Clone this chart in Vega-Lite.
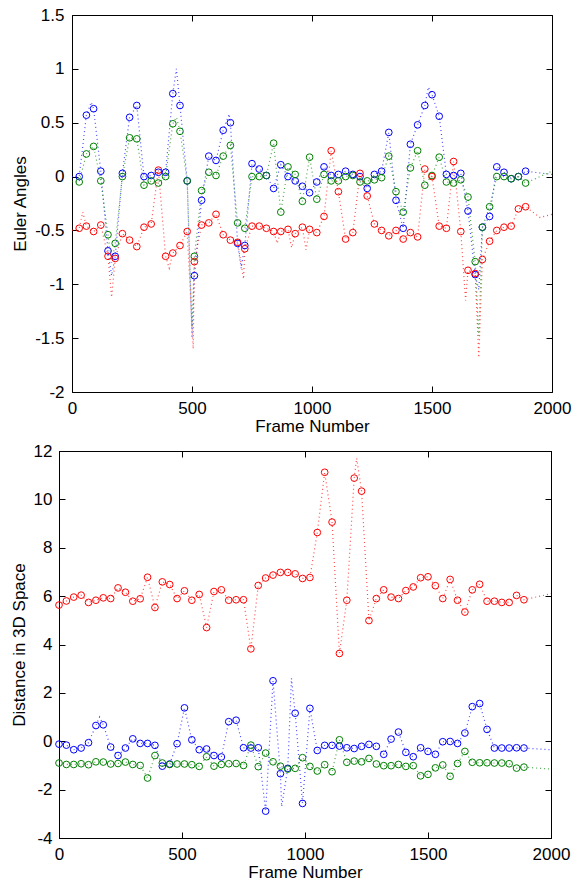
{
"$schema": "https://vega.github.io/schema/vega-lite/v6.json",
"background": "white",
"padding": {"left": 9, "top": 6, "right": 24, "bottom": 0},
"spacing": 7,
"config": {
 "view": {"stroke": "black", "strokeWidth": 1},
 "font": "Liberation Sans",
 "axis": {"grid": false, "domainColor": "black", "tickColor": "black", "labelColor": "black", "titleColor": "black", "labelFont": "Liberation Sans", "titleFont": "Liberation Sans", "labelFontSize": 17, "titleFontSize": 17, "titleFontWeight": "normal", "tickSize": -6, "labelPadding": 14, "labelFlush": false, "labelOverlap": false, "domainWidth": 1, "tickWidth": 1}
},
"datasets": {
"top": [
{"frame":0,"series":"B","value":0,"kind":"ln"},{"frame":80,"series":"B","value":0.69,"kind":"ln"},{"frame":165,"series":"B","value":-0.92,"kind":"ln"},{"frame":435,"series":"B","value":1.0,"kind":"ln"},{"frame":500,"series":"B","value":-1.5,"kind":"ln"},{"frame":655,"series":"B","value":0.58,"kind":"ln"},{"frame":705,"series":"B","value":-0.85,"kind":"ln"},{"frame":1485,"series":"B","value":0.83,"kind":"ln"},{"frame":1695,"series":"B","value":-1.05,"kind":"ln"},{"frame":2000,"series":"B","value":0.02,"kind":"ln"},
{"frame":0,"series":"G","value":-0.05,"kind":"ln"},{"frame":165,"series":"G","value":-0.8,"kind":"ln"},{"frame":435,"series":"G","value":0.55,"kind":"ln"},{"frame":500,"series":"G","value":-1.4,"kind":"ln"},{"frame":1695,"series":"G","value":-1.48,"kind":"ln"},{"frame":2000,"series":"G","value":0.05,"kind":"ln"},
{"frame":0,"series":"R","value":-0.5,"kind":"ln"},{"frame":45,"series":"R","value":-0.33,"kind":"ln"},{"frame":165,"series":"R","value":-1.12,"kind":"ln"},{"frame":405,"series":"R","value":-0.85,"kind":"ln"},{"frame":505,"series":"R","value":-1.6,"kind":"ln"},{"frame":715,"series":"R","value":-0.95,"kind":"ln"},{"frame":855,"series":"R","value":-0.62,"kind":"ln"},{"frame":915,"series":"R","value":-0.66,"kind":"ln"},{"frame":975,"series":"R","value":-0.68,"kind":"ln"},{"frame":1640,"series":"R","value":-1.15,"kind":"ln"},{"frame":1695,"series":"R","value":-1.68,"kind":"ln"},{"frame":1950,"series":"R","value":-0.38,"kind":"ln"},{"frame":2000,"series":"R","value":-0.35,"kind":"ln"},
{"frame":30,"series":"B","value":0,"kind":"pt"},{"frame":30,"series":"G","value":-0.05,"kind":"pt"},{"frame":30,"series":"R","value":-0.48,"kind":"pt"},
{"frame":60,"series":"B","value":0.57,"kind":"pt"},{"frame":60,"series":"G","value":0.21,"kind":"pt"},{"frame":60,"series":"R","value":-0.46,"kind":"pt"},
{"frame":90,"series":"B","value":0.63,"kind":"pt"},{"frame":90,"series":"G","value":0.28,"kind":"pt"},{"frame":90,"series":"R","value":-0.51,"kind":"pt"},
{"frame":120,"series":"B","value":0.05,"kind":"pt"},{"frame":120,"series":"G","value":-0.04,"kind":"pt"},{"frame":120,"series":"R","value":-0.45,"kind":"pt"},
{"frame":150,"series":"B","value":-0.69,"kind":"pt"},{"frame":150,"series":"G","value":-0.54,"kind":"pt"},{"frame":150,"series":"R","value":-0.74,"kind":"pt"},
{"frame":180,"series":"B","value":-0.74,"kind":"pt"},{"frame":180,"series":"G","value":-0.62,"kind":"pt"},{"frame":180,"series":"R","value":-0.76,"kind":"pt"},
{"frame":210,"series":"B","value":0.03,"kind":"pt"},{"frame":210,"series":"G","value":0,"kind":"pt"},{"frame":210,"series":"R","value":-0.53,"kind":"pt"},
{"frame":240,"series":"B","value":0.55,"kind":"pt"},{"frame":240,"series":"G","value":0.36,"kind":"pt"},{"frame":240,"series":"R","value":-0.59,"kind":"pt"},
{"frame":270,"series":"B","value":0.66,"kind":"pt"},{"frame":270,"series":"G","value":0.35,"kind":"pt"},{"frame":270,"series":"R","value":-0.65,"kind":"pt"},
{"frame":300,"series":"B","value":0,"kind":"pt"},{"frame":300,"series":"G","value":-0.08,"kind":"pt"},{"frame":300,"series":"R","value":-0.47,"kind":"pt"},
{"frame":330,"series":"B","value":0.01,"kind":"pt"},{"frame":330,"series":"G","value":-0.04,"kind":"pt"},{"frame":330,"series":"R","value":-0.44,"kind":"pt"},
{"frame":360,"series":"B","value":0.04,"kind":"pt"},{"frame":360,"series":"G","value":-0.06,"kind":"pt"},{"frame":360,"series":"R","value":0.06,"kind":"pt"},
{"frame":390,"series":"B","value":0.04,"kind":"pt"},{"frame":390,"series":"G","value":0,"kind":"pt"},{"frame":390,"series":"R","value":-0.74,"kind":"pt"},
{"frame":420,"series":"B","value":0.77,"kind":"pt"},{"frame":420,"series":"G","value":0.49,"kind":"pt"},{"frame":420,"series":"R","value":-0.71,"kind":"pt"},
{"frame":450,"series":"B","value":0.66,"kind":"pt"},{"frame":450,"series":"G","value":0.42,"kind":"pt"},{"frame":450,"series":"R","value":-0.64,"kind":"pt"},
{"frame":480,"series":"B","value":-0.04,"kind":"pt"},{"frame":480,"series":"G","value":-0.04,"kind":"pt"},{"frame":480,"series":"R","value":-0.51,"kind":"pt"},
{"frame":510,"series":"B","value":-0.92,"kind":"pt"},{"frame":510,"series":"G","value":-0.74,"kind":"pt"},{"frame":510,"series":"R","value":-0.79,"kind":"pt"},
{"frame":540,"series":"B","value":-0.22,"kind":"pt"},{"frame":540,"series":"G","value":-0.13,"kind":"pt"},{"frame":540,"series":"R","value":-0.45,"kind":"pt"},
{"frame":570,"series":"B","value":0.19,"kind":"pt"},{"frame":570,"series":"G","value":0.04,"kind":"pt"},{"frame":570,"series":"R","value":-0.43,"kind":"pt"},
{"frame":600,"series":"B","value":0.15,"kind":"pt"},{"frame":600,"series":"G","value":0.01,"kind":"pt"},{"frame":600,"series":"R","value":-0.35,"kind":"pt"},
{"frame":630,"series":"B","value":0.43,"kind":"pt"},{"frame":630,"series":"G","value":0.19,"kind":"pt"},{"frame":630,"series":"R","value":-0.54,"kind":"pt"},
{"frame":660,"series":"B","value":0.5,"kind":"pt"},{"frame":660,"series":"G","value":0.29,"kind":"pt"},{"frame":660,"series":"R","value":-0.59,"kind":"pt"},
{"frame":690,"series":"B","value":-0.62,"kind":"pt"},{"frame":690,"series":"G","value":-0.43,"kind":"pt"},{"frame":690,"series":"R","value":-0.61,"kind":"pt"},
{"frame":720,"series":"B","value":-0.64,"kind":"pt"},{"frame":720,"series":"G","value":-0.48,"kind":"pt"},{"frame":720,"series":"R","value":-0.67,"kind":"pt"},
{"frame":750,"series":"B","value":0.12,"kind":"pt"},{"frame":750,"series":"G","value":0,"kind":"pt"},{"frame":750,"series":"R","value":-0.46,"kind":"pt"},
{"frame":780,"series":"B","value":0.07,"kind":"pt"},{"frame":780,"series":"G","value":0,"kind":"pt"},{"frame":780,"series":"R","value":-0.46,"kind":"pt"},
{"frame":810,"series":"B","value":0.01,"kind":"pt"},{"frame":810,"series":"G","value":0.01,"kind":"pt"},{"frame":810,"series":"R","value":-0.48,"kind":"pt"},
{"frame":840,"series":"B","value":-0.11,"kind":"pt"},{"frame":840,"series":"G","value":0.31,"kind":"pt"},{"frame":840,"series":"R","value":-0.51,"kind":"pt"},
{"frame":870,"series":"B","value":0.11,"kind":"pt"},{"frame":870,"series":"G","value":-0.33,"kind":"pt"},{"frame":870,"series":"R","value":-0.51,"kind":"pt"},
{"frame":900,"series":"B","value":0,"kind":"pt"},{"frame":900,"series":"G","value":0.09,"kind":"pt"},{"frame":900,"series":"R","value":-0.49,"kind":"pt"},
{"frame":930,"series":"B","value":-0.04,"kind":"pt"},{"frame":930,"series":"G","value":0.02,"kind":"pt"},{"frame":930,"series":"R","value":-0.53,"kind":"pt"},
{"frame":960,"series":"B","value":-0.09,"kind":"pt"},{"frame":960,"series":"G","value":-0.23,"kind":"pt"},{"frame":960,"series":"R","value":-0.47,"kind":"pt"},
{"frame":990,"series":"B","value":-0.15,"kind":"pt"},{"frame":990,"series":"G","value":0.18,"kind":"pt"},{"frame":990,"series":"R","value":-0.49,"kind":"pt"},
{"frame":1020,"series":"B","value":-0.05,"kind":"pt"},{"frame":1020,"series":"G","value":-0.21,"kind":"pt"},{"frame":1020,"series":"R","value":-0.52,"kind":"pt"},
{"frame":1050,"series":"B","value":0.09,"kind":"pt"},{"frame":1050,"series":"G","value":0.02,"kind":"pt"},{"frame":1050,"series":"R","value":-0.37,"kind":"pt"},
{"frame":1080,"series":"B","value":0.01,"kind":"pt"},{"frame":1080,"series":"G","value":-0.04,"kind":"pt"},{"frame":1080,"series":"R","value":0.24,"kind":"pt"},
{"frame":1110,"series":"B","value":0.02,"kind":"pt"},{"frame":1110,"series":"G","value":-0.04,"kind":"pt"},{"frame":1110,"series":"R","value":-0.14,"kind":"pt"},
{"frame":1140,"series":"B","value":0.05,"kind":"pt"},{"frame":1140,"series":"G","value":0,"kind":"pt"},{"frame":1140,"series":"R","value":-0.58,"kind":"pt"},
{"frame":1170,"series":"B","value":0.02,"kind":"pt"},{"frame":1170,"series":"G","value":0.01,"kind":"pt"},{"frame":1170,"series":"R","value":-0.52,"kind":"pt"},
{"frame":1200,"series":"B","value":0,"kind":"pt"},{"frame":1200,"series":"G","value":-0.05,"kind":"pt"},{"frame":1200,"series":"R","value":0.03,"kind":"pt"},
{"frame":1230,"series":"B","value":-0.11,"kind":"pt"},{"frame":1230,"series":"G","value":-0.04,"kind":"pt"},{"frame":1230,"series":"R","value":-0.18,"kind":"pt"},
{"frame":1260,"series":"B","value":0.02,"kind":"pt"},{"frame":1260,"series":"G","value":-0.03,"kind":"pt"},{"frame":1260,"series":"R","value":-0.44,"kind":"pt"},
{"frame":1290,"series":"B","value":0.05,"kind":"pt"},{"frame":1290,"series":"G","value":-0.01,"kind":"pt"},{"frame":1290,"series":"R","value":-0.5,"kind":"pt"},
{"frame":1320,"series":"B","value":0.41,"kind":"pt"},{"frame":1320,"series":"G","value":0.19,"kind":"pt"},{"frame":1320,"series":"R","value":-0.55,"kind":"pt"},
{"frame":1350,"series":"B","value":-0.22,"kind":"pt"},{"frame":1350,"series":"G","value":-0.14,"kind":"pt"},{"frame":1350,"series":"R","value":-0.5,"kind":"pt"},
{"frame":1380,"series":"B","value":-0.48,"kind":"pt"},{"frame":1380,"series":"G","value":-0.33,"kind":"pt"},{"frame":1380,"series":"R","value":-0.58,"kind":"pt"},
{"frame":1410,"series":"B","value":0.3,"kind":"pt"},{"frame":1410,"series":"G","value":0.08,"kind":"pt"},{"frame":1410,"series":"R","value":-0.52,"kind":"pt"},
{"frame":1440,"series":"B","value":0.48,"kind":"pt"},{"frame":1440,"series":"G","value":0.24,"kind":"pt"},{"frame":1440,"series":"R","value":-0.56,"kind":"pt"},
{"frame":1470,"series":"B","value":0.66,"kind":"pt"},{"frame":1470,"series":"G","value":-0.08,"kind":"pt"},{"frame":1470,"series":"R","value":0.07,"kind":"pt"},
{"frame":1500,"series":"B","value":0.76,"kind":"pt"},{"frame":1500,"series":"G","value":0.01,"kind":"pt"},{"frame":1500,"series":"R","value":0,"kind":"pt"},
{"frame":1530,"series":"B","value":0.56,"kind":"pt"},{"frame":1530,"series":"G","value":0.18,"kind":"pt"},{"frame":1530,"series":"R","value":-0.46,"kind":"pt"},
{"frame":1560,"series":"B","value":0.02,"kind":"pt"},{"frame":1560,"series":"G","value":-0.05,"kind":"pt"},{"frame":1560,"series":"R","value":-0.48,"kind":"pt"},
{"frame":1590,"series":"B","value":0.01,"kind":"pt"},{"frame":1590,"series":"G","value":-0.06,"kind":"pt"},{"frame":1590,"series":"R","value":0.14,"kind":"pt"},
{"frame":1620,"series":"B","value":0.03,"kind":"pt"},{"frame":1620,"series":"G","value":-0.03,"kind":"pt"},{"frame":1620,"series":"R","value":-0.51,"kind":"pt"},
{"frame":1650,"series":"B","value":-0.32,"kind":"pt"},{"frame":1650,"series":"G","value":-0.19,"kind":"pt"},{"frame":1650,"series":"R","value":-0.87,"kind":"pt"},
{"frame":1680,"series":"B","value":-0.91,"kind":"pt"},{"frame":1680,"series":"G","value":-0.79,"kind":"pt"},{"frame":1680,"series":"R","value":-0.9,"kind":"pt"},
{"frame":1710,"series":"B","value":-0.47,"kind":"pt"},{"frame":1710,"series":"G","value":-0.47,"kind":"pt"},{"frame":1710,"series":"R","value":-0.77,"kind":"pt"},
{"frame":1740,"series":"B","value":-0.37,"kind":"pt"},{"frame":1740,"series":"G","value":-0.28,"kind":"pt"},{"frame":1740,"series":"R","value":-0.6,"kind":"pt"},
{"frame":1770,"series":"B","value":0.09,"kind":"pt"},{"frame":1770,"series":"G","value":0,"kind":"pt"},{"frame":1770,"series":"R","value":-0.5,"kind":"pt"},
{"frame":1800,"series":"B","value":0.04,"kind":"pt"},{"frame":1800,"series":"G","value":0,"kind":"pt"},{"frame":1800,"series":"R","value":-0.47,"kind":"pt"},
{"frame":1830,"series":"B","value":-0.02,"kind":"pt"},{"frame":1830,"series":"G","value":-0.02,"kind":"pt"},{"frame":1830,"series":"R","value":-0.46,"kind":"pt"},
{"frame":1860,"series":"B","value":0,"kind":"pt"},{"frame":1860,"series":"G","value":0,"kind":"pt"},{"frame":1860,"series":"R","value":-0.3,"kind":"pt"},
{"frame":1890,"series":"B","value":0.05,"kind":"pt"},{"frame":1890,"series":"G","value":-0.06,"kind":"pt"},{"frame":1890,"series":"R","value":-0.28,"kind":"pt"}
],
"bot": [
{"frame":1210,"series":"R","value":11.7,"kind":"ln"},{"frame":2000,"series":"R","value":6.1,"kind":"ln"},
{"frame":165,"series":"B","value":1.0,"kind":"ln"},{"frame":905,"series":"B","value":-2.7,"kind":"ln"},{"frame":945,"series":"B","value":2.6,"kind":"ln"},{"frame":2000,"series":"B","value":-0.35,"kind":"ln"},
{"frame":2000,"series":"G","value":-1.15,"kind":"ln"},
{"frame":0,"series":"R","value":5.63,"kind":"pt"},{"frame":0,"series":"B","value":-0.12,"kind":"pt"},{"frame":0,"series":"G","value":-0.9,"kind":"pt"},
{"frame":30,"series":"R","value":5.8,"kind":"pt"},{"frame":30,"series":"B","value":-0.16,"kind":"pt"},{"frame":30,"series":"G","value":-0.96,"kind":"pt"},
{"frame":60,"series":"R","value":5.96,"kind":"pt"},{"frame":60,"series":"B","value":-0.35,"kind":"pt"},{"frame":60,"series":"G","value":-0.96,"kind":"pt"},
{"frame":90,"series":"R","value":6.04,"kind":"pt"},{"frame":90,"series":"B","value":-0.28,"kind":"pt"},{"frame":90,"series":"G","value":-0.93,"kind":"pt"},
{"frame":120,"series":"R","value":5.74,"kind":"pt"},{"frame":120,"series":"B","value":-0.06,"kind":"pt"},{"frame":120,"series":"G","value":-0.97,"kind":"pt"},
{"frame":150,"series":"R","value":5.83,"kind":"pt"},{"frame":150,"series":"B","value":0.65,"kind":"pt"},{"frame":150,"series":"G","value":-0.85,"kind":"pt"},
{"frame":180,"series":"R","value":5.93,"kind":"pt"},{"frame":180,"series":"B","value":0.68,"kind":"pt"},{"frame":180,"series":"G","value":-0.86,"kind":"pt"},
{"frame":210,"series":"R","value":5.9,"kind":"pt"},{"frame":210,"series":"B","value":-0.24,"kind":"pt"},{"frame":210,"series":"G","value":-0.94,"kind":"pt"},
{"frame":240,"series":"R","value":6.34,"kind":"pt"},{"frame":240,"series":"B","value":-0.59,"kind":"pt"},{"frame":240,"series":"G","value":-0.92,"kind":"pt"},
{"frame":270,"series":"R","value":6.16,"kind":"pt"},{"frame":270,"series":"B","value":-0.28,"kind":"pt"},{"frame":270,"series":"G","value":-0.86,"kind":"pt"},
{"frame":300,"series":"R","value":5.79,"kind":"pt"},{"frame":300,"series":"B","value":0.1,"kind":"pt"},{"frame":300,"series":"G","value":-0.96,"kind":"pt"},
{"frame":330,"series":"R","value":5.89,"kind":"pt"},{"frame":330,"series":"B","value":-0.09,"kind":"pt"},{"frame":330,"series":"G","value":-1.0,"kind":"pt"},
{"frame":360,"series":"R","value":6.78,"kind":"pt"},{"frame":360,"series":"B","value":-0.09,"kind":"pt"},{"frame":360,"series":"G","value":-1.52,"kind":"pt"},
{"frame":390,"series":"R","value":5.53,"kind":"pt"},{"frame":390,"series":"B","value":-0.17,"kind":"pt"},{"frame":390,"series":"G","value":-0.59,"kind":"pt"},
{"frame":420,"series":"R","value":6.59,"kind":"pt"},{"frame":420,"series":"B","value":-1.03,"kind":"pt"},{"frame":420,"series":"G","value":-0.9,"kind":"pt"},
{"frame":450,"series":"R","value":6.48,"kind":"pt"},{"frame":450,"series":"B","value":-0.94,"kind":"pt"},{"frame":450,"series":"G","value":-0.96,"kind":"pt"},
{"frame":480,"series":"R","value":5.9,"kind":"pt"},{"frame":480,"series":"B","value":-0.1,"kind":"pt"},{"frame":480,"series":"G","value":-0.94,"kind":"pt"},
{"frame":510,"series":"R","value":6.22,"kind":"pt"},{"frame":510,"series":"B","value":1.38,"kind":"pt"},{"frame":510,"series":"G","value":-0.94,"kind":"pt"},
{"frame":540,"series":"R","value":5.83,"kind":"pt"},{"frame":540,"series":"B","value":0.06,"kind":"pt"},{"frame":540,"series":"G","value":-0.97,"kind":"pt"},
{"frame":570,"series":"R","value":6.07,"kind":"pt"},{"frame":570,"series":"B","value":-0.35,"kind":"pt"},{"frame":570,"series":"G","value":-1.04,"kind":"pt"},
{"frame":600,"series":"R","value":4.7,"kind":"pt"},{"frame":600,"series":"B","value":-0.32,"kind":"pt"},{"frame":600,"series":"G","value":-0.64,"kind":"pt"},
{"frame":630,"series":"R","value":6.19,"kind":"pt"},{"frame":630,"series":"B","value":-0.59,"kind":"pt"},{"frame":630,"series":"G","value":-1.03,"kind":"pt"},
{"frame":660,"series":"R","value":6.26,"kind":"pt"},{"frame":660,"series":"B","value":-0.65,"kind":"pt"},{"frame":660,"series":"G","value":-0.96,"kind":"pt"},
{"frame":690,"series":"R","value":5.83,"kind":"pt"},{"frame":690,"series":"B","value":0.81,"kind":"pt"},{"frame":690,"series":"G","value":-0.93,"kind":"pt"},
{"frame":720,"series":"R","value":5.85,"kind":"pt"},{"frame":720,"series":"B","value":0.87,"kind":"pt"},{"frame":720,"series":"G","value":-0.92,"kind":"pt"},
{"frame":750,"series":"R","value":5.85,"kind":"pt"},{"frame":750,"series":"B","value":-0.27,"kind":"pt"},{"frame":750,"series":"G","value":-1.0,"kind":"pt"},
{"frame":780,"series":"R","value":3.82,"kind":"pt"},{"frame":780,"series":"B","value":-0.28,"kind":"pt"},{"frame":780,"series":"G","value":-0.16,"kind":"pt"},
{"frame":810,"series":"R","value":6.44,"kind":"pt"},{"frame":810,"series":"B","value":-0.27,"kind":"pt"},{"frame":810,"series":"G","value":-1.05,"kind":"pt"},
{"frame":840,"series":"R","value":6.75,"kind":"pt"},{"frame":840,"series":"B","value":-2.89,"kind":"pt"},{"frame":840,"series":"G","value":-0.49,"kind":"pt"},
{"frame":870,"series":"R","value":6.87,"kind":"pt"},{"frame":870,"series":"B","value":2.5,"kind":"pt"},{"frame":870,"series":"G","value":-0.85,"kind":"pt"},
{"frame":900,"series":"R","value":6.98,"kind":"pt"},{"frame":900,"series":"B","value":-1.34,"kind":"pt"},{"frame":900,"series":"G","value":-1.03,"kind":"pt"},
{"frame":930,"series":"R","value":6.98,"kind":"pt"},{"frame":930,"series":"B","value":-1.12,"kind":"pt"},{"frame":930,"series":"G","value":-1.15,"kind":"pt"},
{"frame":960,"series":"R","value":6.92,"kind":"pt"},{"frame":960,"series":"B","value":1.16,"kind":"pt"},{"frame":960,"series":"G","value":-1.12,"kind":"pt"},
{"frame":990,"series":"R","value":6.73,"kind":"pt"},{"frame":990,"series":"B","value":-2.57,"kind":"pt"},{"frame":990,"series":"G","value":-0.68,"kind":"pt"},
{"frame":1020,"series":"R","value":6.77,"kind":"pt"},{"frame":1020,"series":"B","value":1.36,"kind":"pt"},{"frame":1020,"series":"G","value":-1.04,"kind":"pt"},
{"frame":1050,"series":"R","value":8.63,"kind":"pt"},{"frame":1050,"series":"B","value":-0.38,"kind":"pt"},{"frame":1050,"series":"G","value":-1.23,"kind":"pt"},
{"frame":1080,"series":"R","value":11.12,"kind":"pt"},{"frame":1080,"series":"B","value":-0.17,"kind":"pt"},{"frame":1080,"series":"G","value":-0.97,"kind":"pt"},
{"frame":1110,"series":"R","value":9.06,"kind":"pt"},{"frame":1110,"series":"B","value":-0.17,"kind":"pt"},{"frame":1110,"series":"G","value":-1.26,"kind":"pt"},
{"frame":1140,"series":"R","value":3.63,"kind":"pt"},{"frame":1140,"series":"B","value":-0.2,"kind":"pt"},{"frame":1140,"series":"G","value":0.06,"kind":"pt"},
{"frame":1170,"series":"R","value":5.83,"kind":"pt"},{"frame":1170,"series":"B","value":-0.27,"kind":"pt"},{"frame":1170,"series":"G","value":-0.87,"kind":"pt"},
{"frame":1200,"series":"R","value":10.88,"kind":"pt"},{"frame":1200,"series":"B","value":-0.3,"kind":"pt"},{"frame":1200,"series":"G","value":-0.82,"kind":"pt"},
{"frame":1230,"series":"R","value":10.34,"kind":"pt"},{"frame":1230,"series":"B","value":-0.21,"kind":"pt"},{"frame":1230,"series":"G","value":-0.85,"kind":"pt"},
{"frame":1260,"series":"R","value":4.99,"kind":"pt"},{"frame":1260,"series":"B","value":-0.13,"kind":"pt"},{"frame":1260,"series":"G","value":-0.71,"kind":"pt"},
{"frame":1290,"series":"R","value":5.9,"kind":"pt"},{"frame":1290,"series":"B","value":-0.21,"kind":"pt"},{"frame":1290,"series":"G","value":-0.94,"kind":"pt"},
{"frame":1320,"series":"R","value":6.26,"kind":"pt"},{"frame":1320,"series":"B","value":-0.54,"kind":"pt"},{"frame":1320,"series":"G","value":-1.01,"kind":"pt"},
{"frame":1350,"series":"R","value":5.96,"kind":"pt"},{"frame":1350,"series":"B","value":0.09,"kind":"pt"},{"frame":1350,"series":"G","value":-1.01,"kind":"pt"},
{"frame":1380,"series":"R","value":5.9,"kind":"pt"},{"frame":1380,"series":"B","value":0.38,"kind":"pt"},{"frame":1380,"series":"G","value":-0.96,"kind":"pt"},
{"frame":1410,"series":"R","value":6.23,"kind":"pt"},{"frame":1410,"series":"B","value":-0.46,"kind":"pt"},{"frame":1410,"series":"G","value":-1.04,"kind":"pt"},
{"frame":1440,"series":"R","value":6.38,"kind":"pt"},{"frame":1440,"series":"B","value":-0.64,"kind":"pt"},{"frame":1440,"series":"G","value":-1.01,"kind":"pt"},
{"frame":1470,"series":"R","value":6.76,"kind":"pt"},{"frame":1470,"series":"B","value":-0.27,"kind":"pt"},{"frame":1470,"series":"G","value":-1.43,"kind":"pt"},
{"frame":1500,"series":"R","value":6.8,"kind":"pt"},{"frame":1500,"series":"B","value":-0.42,"kind":"pt"},{"frame":1500,"series":"G","value":-1.37,"kind":"pt"},
{"frame":1530,"series":"R","value":6.43,"kind":"pt"},{"frame":1530,"series":"B","value":-0.54,"kind":"pt"},{"frame":1530,"series":"G","value":-1.1,"kind":"pt"},
{"frame":1560,"series":"R","value":5.9,"kind":"pt"},{"frame":1560,"series":"B","value":-0.02,"kind":"pt"},{"frame":1560,"series":"G","value":-0.98,"kind":"pt"},
{"frame":1590,"series":"R","value":6.69,"kind":"pt"},{"frame":1590,"series":"B","value":-0.01,"kind":"pt"},{"frame":1590,"series":"G","value":-1.45,"kind":"pt"},
{"frame":1620,"series":"R","value":5.83,"kind":"pt"},{"frame":1620,"series":"B","value":-0.09,"kind":"pt"},{"frame":1620,"series":"G","value":-0.92,"kind":"pt"},
{"frame":1650,"series":"R","value":5.34,"kind":"pt"},{"frame":1650,"series":"B","value":0.34,"kind":"pt"},{"frame":1650,"series":"G","value":-0.42,"kind":"pt"},
{"frame":1680,"series":"R","value":6.26,"kind":"pt"},{"frame":1680,"series":"B","value":1.43,"kind":"pt"},{"frame":1680,"series":"G","value":-0.87,"kind":"pt"},
{"frame":1710,"series":"R","value":6.49,"kind":"pt"},{"frame":1710,"series":"B","value":1.56,"kind":"pt"},{"frame":1710,"series":"G","value":-0.89,"kind":"pt"},
{"frame":1740,"series":"R","value":5.79,"kind":"pt"},{"frame":1740,"series":"B","value":0.49,"kind":"pt"},{"frame":1740,"series":"G","value":-0.89,"kind":"pt"},
{"frame":1770,"series":"R","value":5.79,"kind":"pt"},{"frame":1770,"series":"B","value":-0.28,"kind":"pt"},{"frame":1770,"series":"G","value":-0.9,"kind":"pt"},
{"frame":1800,"series":"R","value":5.74,"kind":"pt"},{"frame":1800,"series":"B","value":-0.28,"kind":"pt"},{"frame":1800,"series":"G","value":-0.9,"kind":"pt"},
{"frame":1830,"series":"R","value":5.74,"kind":"pt"},{"frame":1830,"series":"B","value":-0.28,"kind":"pt"},{"frame":1830,"series":"G","value":-0.93,"kind":"pt"},
{"frame":1860,"series":"R","value":6.03,"kind":"pt"},{"frame":1860,"series":"B","value":-0.27,"kind":"pt"},{"frame":1860,"series":"G","value":-1.11,"kind":"pt"},
{"frame":1890,"series":"R","value":5.85,"kind":"pt"},{"frame":1890,"series":"B","value":-0.28,"kind":"pt"},{"frame":1890,"series":"G","value":-1.07,"kind":"pt"}
]
},
"vconcat": [
{
 "width": 493, "height": 377,
 "view": {"stroke": null},
 "data": {"name": "top"},
 "layer": [
  {"mark": {"type": "line", "strokeDash": [1, 3], "strokeWidth": 1.2, "opacity": 0.7},
   "encoding": {
    "x": {"field": "frame", "type": "quantitative", "scale": {"domain": [0, 2000], "nice": false, "range": [13, 493]}, "axis": {"values": [0, 500, 1000, 1500, 2000], "title": "Frame Number", "labelExpr": "'' + datum.value", "titlePadding": 2}},
    "y": {"field": "value", "type": "quantitative", "scale": {"domain": [-2, 1.5], "nice": false, "zero": false}, "axis": {"values": [-2, -1.5, -1, -0.5, 0, 0.5, 1, 1.5], "title": "Euler Angles", "labelExpr": "'' + datum.value", "titlePadding": 5, "offset": -13}},
    "color": {"field": "series", "type": "nominal", "scale": {"domain": ["B", "G", "R"], "range": ["#0000ff", "#008000", "#ff0000"]}, "legend": null}
   }},
  {"transform": [{"filter": "datum.kind == 'pt'"}],
   "mark": {"type": "point", "shape": "circle", "filled": false, "size": 45, "strokeWidth": 1, "opacity": 1},
   "encoding": {
    "x": {"field": "frame", "type": "quantitative", "axis": {"orient": "top", "values": [0, 500, 1000, 1500, 2000], "labels": false, "title": null}},
    "y": {"field": "value", "type": "quantitative", "axis": {"orient": "right", "values": [-2, -1.5, -1, -0.5, 0, 0.5, 1, 1.5], "labels": false, "title": null}},
    "color": {"field": "series", "type": "nominal", "legend": null}
   }}
 ],
 "resolve": {"axis": {"x": "independent", "y": "independent"}}
},
{
 "width": 492, "height": 387,
 "data": {"name": "bot"},
 "layer": [
  {"mark": {"type": "line", "strokeDash": [1, 3], "strokeWidth": 1.2, "opacity": 0.7},
   "encoding": {
    "x": {"field": "frame", "type": "quantitative", "scale": {"domain": [0, 2000], "nice": false}, "axis": {"values": [0, 500, 1000, 1500, 2000], "title": "Frame Number", "labelExpr": "'' + datum.value", "titlePadding": 2}},
    "y": {"field": "value", "type": "quantitative", "scale": {"domain": [-4, 12], "nice": false, "zero": false}, "axis": {"values": [-4, -2, 0, 2, 4, 6, 8, 10, 12], "title": "Distance in 3D Space", "labelExpr": "'' + datum.value", "titlePadding": 5, "labelPadding": 13}},
    "color": {"field": "series", "type": "nominal", "scale": {"domain": ["B", "G", "R"], "range": ["#0000ff", "#008000", "#ff0000"]}, "legend": null}
   }},
  {"transform": [{"filter": "datum.kind == 'pt'"}],
   "mark": {"type": "point", "shape": "circle", "filled": false, "size": 45, "strokeWidth": 1, "opacity": 1},
   "encoding": {
    "x": {"field": "frame", "type": "quantitative", "axis": {"orient": "top", "values": [0, 500, 1000, 1500, 2000], "labels": false, "title": null}},
    "y": {"field": "value", "type": "quantitative", "axis": {"orient": "right", "values": [-4, -2, 0, 2, 4, 6, 8, 10, 12], "labels": false, "title": null}},
    "color": {"field": "series", "type": "nominal", "legend": null}
   }}
 ],
 "resolve": {"axis": {"x": "independent", "y": "independent"}}
}
]
}
